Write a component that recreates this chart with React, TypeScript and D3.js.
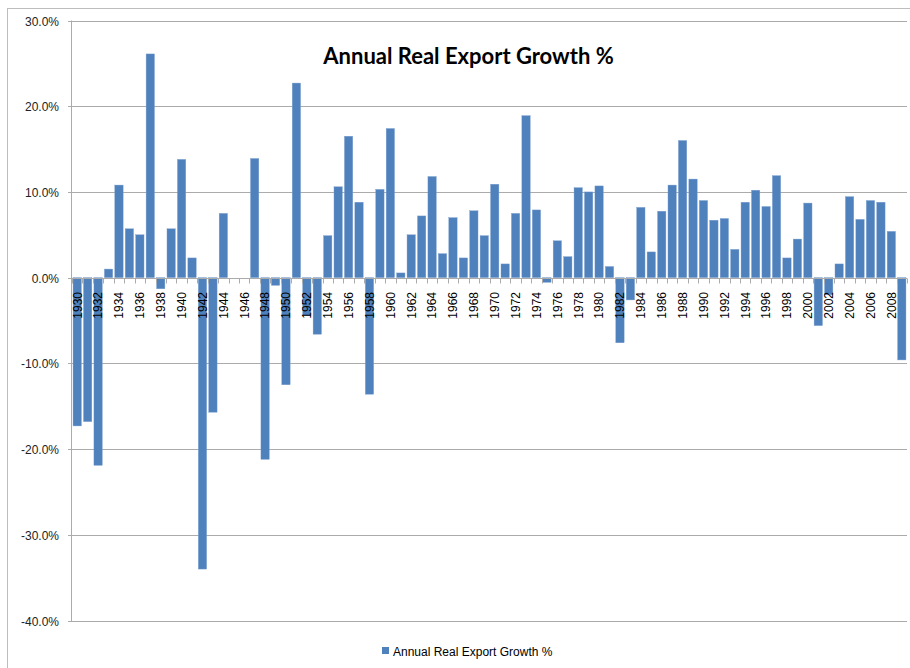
import React from "react";
import * as d3 from "d3";

const years: number[] = d3.range(1930, 2010);
const growth: number[] = [
  -17.3, -16.8, -21.9, 1.0, 10.8, 5.7, 5.0, 26.1, -1.3, 5.7,
  13.8, 2.3, -34.0, -15.7, 7.5, 0, 0, 13.9, -21.2, -0.9,
  -12.5, 22.7, -4.4, -6.6, 4.9, 10.6, 16.5, 8.8, -13.6, 10.3,
  17.4, 0.55, 5.0, 7.2, 11.8, 2.8, 7.0, 2.3, 7.8, 4.9,
  10.9, 1.6, 7.5, 18.9, 7.9, -0.55, 4.3, 2.45, 10.5, 10.0,
  10.7, 1.3, -7.6, -2.6, 8.2, 3.0, 7.75, 10.8, 16.0, 11.5,
  9.0, 6.7, 6.9, 3.3, 8.8, 10.2, 8.3, 11.9, 2.3, 4.5,
  8.7, -5.6, -2.0, 1.6, 9.45, 6.8, 9.0, 8.8, 5.4, -9.6,
];
const yTicks: number[] = [30, 20, 10, 0, -10, -20, -30, -40];
const labelYears: number[] = years.filter((y) => (y - 1930) % 2 === 0);
const title = "Annual Real Export Growth %";
const seriesName = "Annual Real Export Growth %";

const W = 910;
const H = 668;
const left = 72;
const right = 907;
const top = 20.5;
const bottom = 620.5;
const barColor = "#4F81BD";
const gridColor = "#ababab";

export default function App() {
  const x = d3.scaleBand<number>().domain(years).range([left, right]).paddingInner(0.2).paddingOuter(0.1);
  const y = d3.scaleLinear().domain([-40, 30]).range([bottom, top]);
  const y0 = Math.round(y(0)) + 0.5;
  const step = x.step();
  const boundaries = d3.range(0, years.length + 1).map((i) => left + i * step);

  return (
    <svg width={W} height={H} style={{ position: "absolute", left: 0, top: 0 }} fontFamily="'Liberation Sans', Arial, sans-serif">
      <rect x={0} y={0} width={W} height={H} fill="#ffffff" />
      <rect x={7.5} y={8.5} width={W + 20} height={H + 20} fill="none" stroke="#bdbdbd" strokeWidth={1} />
      {/* gridlines */}
      {yTicks.map((t) => (
        <g key={t}>
          <line x1={left - 4} x2={right} y1={Math.round(y(t)) + 0.5} y2={Math.round(y(t)) + 0.5} stroke={gridColor} strokeWidth={1} />
          <text x={59} y={Math.round(y(t)) + 4.5} textAnchor="end" fontSize={12} fill="#222">
            {t.toFixed(1) + "%"}
          </text>
        </g>
      ))}
      <line x1={left - 0.5} x2={left - 0.5} y1={top} y2={bottom + 0.5} stroke={gridColor} strokeWidth={1} />
      {/* bars */}
      {years.map((yr, i) => {
        const v = growth[i];
        const y1 = y(Math.max(0, v));
        const y2 = y(Math.min(0, v));
        return (
          <rect key={yr} x={x(yr)!} y={y1} width={x.bandwidth()} height={Math.max(0, y2 - y1)} fill={barColor} stroke="#7fa2d0" strokeWidth={0.4} />
        );
      })}
      {/* x axis */}
      <line x1={left} x2={right} y1={y0} y2={y0} stroke={gridColor} strokeWidth={1} />
      {boundaries.map((bx, i) => (
        <line key={i} x1={Math.round(bx) + 0.5} x2={Math.round(bx) + 0.5} y1={y0} y2={y0 + 5} stroke={gridColor} strokeWidth={1} />
      ))}
      {labelYears.map((yr) => {
        const cx = x(yr)! + x.bandwidth() / 2;
        return (
          <text key={yr} transform={`translate(${cx},${292}) rotate(-90)`} textAnchor="end" dy="0.36em" fontSize={12} fill="#000">
            {yr}
          </text>
        );
      })}
      {/* title */}
      <text x={468.5} y={64} textAnchor="middle" fontSize={22} fontWeight="bold" fontFamily="Lato, 'Open Sans', sans-serif" fill="#000">
        {title}
      </text>
      {/* legend */}
      <rect x={382} y={647} width={7} height={7} fill={barColor} />
      <text x={393} y={656} fontSize={12} fill="#000">
        {seriesName}
      </text>
    </svg>
  );
}
